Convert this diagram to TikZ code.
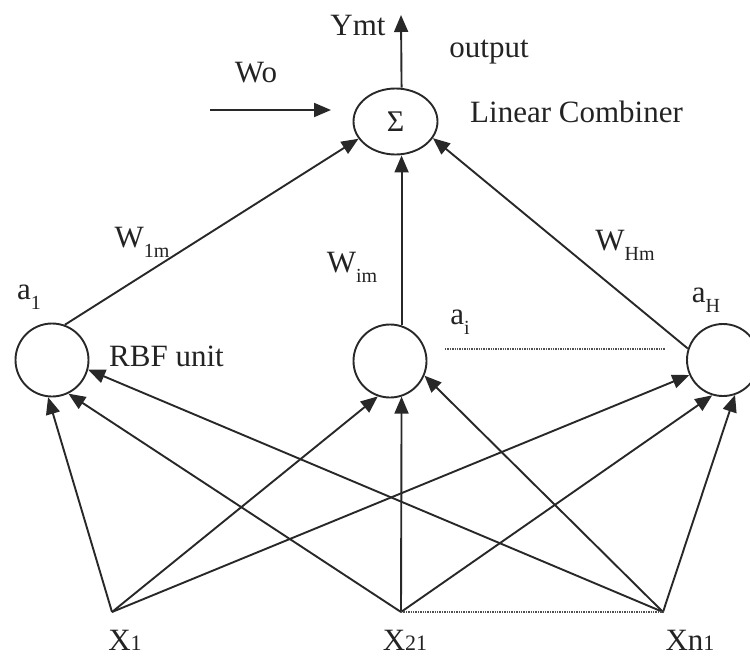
\documentclass[tikz,border=0pt]{standalone}
\usepackage{fontspec}
\setmainfont{Liberation Serif}
\usetikzlibrary{arrows.meta,calc,shapes.geometric}

\definecolor{inkc}{RGB}{40,40,40}
\definecolor{textc}{RGB}{35,35,35}
\definecolor{dotc}{RGB}{80,80,80}

% lowered subscript and small baseline digits, set in text font
\newcommand\lsub[1]{\raisebox{-0.32em}{\fontsize{20}{22}\selectfont #1}}
\newcommand\smdig[1]{{\fontsize{22}{24}\selectfont #1}}

\tikzset{
  ink/.style={draw=inkc, line width=1.9pt},
  unit/.style={ink, circle, minimum size=73pt, inner sep=0pt},
  combiner/.style={ink, ellipse, minimum width=84pt, minimum height=66pt, inner sep=0pt},
  arr/.style={ink, -{Triangle[length=17pt,width=14pt]}},
  dots/.style={draw=dotc, line width=1.4pt, densely dotted},
  lbl/.style={text=textc, inner sep=0pt, font=\fontsize{31}{36}\selectfont},
}

\begin{document}
\begin{tikzpicture}[x=1pt,y=-1pt]
  \useasboundingbox (0,0) rectangle (750,656);

  % output combiner
  \node[combiner, text=textc, font=\fontsize{30}{32}\selectfont] (sum) at (395.5,121.5) {Σ};

  % RBF hidden units
  \node[unit] (h1) at (52,360) {};
  \node[unit] (h2) at (390,361) {};
  \node[unit, minimum size=72pt] (h3) at (723,360) {};

  % input points
  \coordinate (x1) at (112,612);
  \coordinate (x2) at (401,612);
  \coordinate (xn) at (663,612);

  % output and bias arrows
  \coordinate (yout) at (401,15);
  \coordinate (wostart) at (210,110);
  \coordinate (woend) at (331,110);
  \draw[arr] (h2.72.7 |- sum.north) -- (yout);
  \draw[arr] (wostart) -- (woend);

  % hidden to combiner
  \draw[arr] (h1.70) -- (sum.205);
  \draw[arr] (h2.72.7) -- (h2.72.7 |- sum.south);
  \draw[arr] (h3.162) -- (sum.-24);

  % inputs to hidden units
  \draw[arr] (x1) -- (h1.-96);
  \draw[arr] (x1) -- (h2.-109.4);
  \draw[arr] (x1) -- (h3.204.5);
  \draw[arr] (x2) -- (h1.-64.8);
  \draw[arr] (x2) -- (h2.-72.7);
  \draw[arr] (x2) -- (h3.-107);
  \draw[arr] (xn) -- (h1.-15.5);
  \draw[arr] (xn) -- (h2.-23.8);
  \draw[arr] (xn) -- (h3.-71);

  % elided units and inputs
  \coordinate (dl) at (445,349);
  \coordinate (dr) at (665,349);
  \draw[dots] (dl) -- (dr);
  \draw[dots] (x2) -- (xn);

  % labels
  \node[lbl] (tymt) at (358,26) {Ymt};
  \node[lbl] (tout) at (489,52) {output};
  \node[lbl] (two) at (256,73) {Wo};
  \node[lbl, anchor=west] (tlin) at (470,112) {Linear Combiner};
  \node[lbl] (tw1) at (142,242) {W\lsub{1m}};
  \node[lbl] (twi) at (352,267) {W\lsub{im}};
  \node[lbl] (twh) at (625,245) {W\lsub{Hm}};
  \node[lbl] (ta1) at (29,297) {a\lsub{1}};
  \node[lbl] (tai) at (460,322) {a\lsub{i}};
  \node[lbl] (tah) at (706,300) {a\lsub{H}};
  \node[lbl, anchor=west] (trbf) at (109,356) {RBF unit};
  \node[lbl] (tx1) at (125,640) {X\smdig{1}};
  \node[lbl] (tx2) at (405,640) {X\smdig{21}};
  \node[lbl] (txn) at (690,640) {Xn\smdig{1}};
\end{tikzpicture}
\end{document}
